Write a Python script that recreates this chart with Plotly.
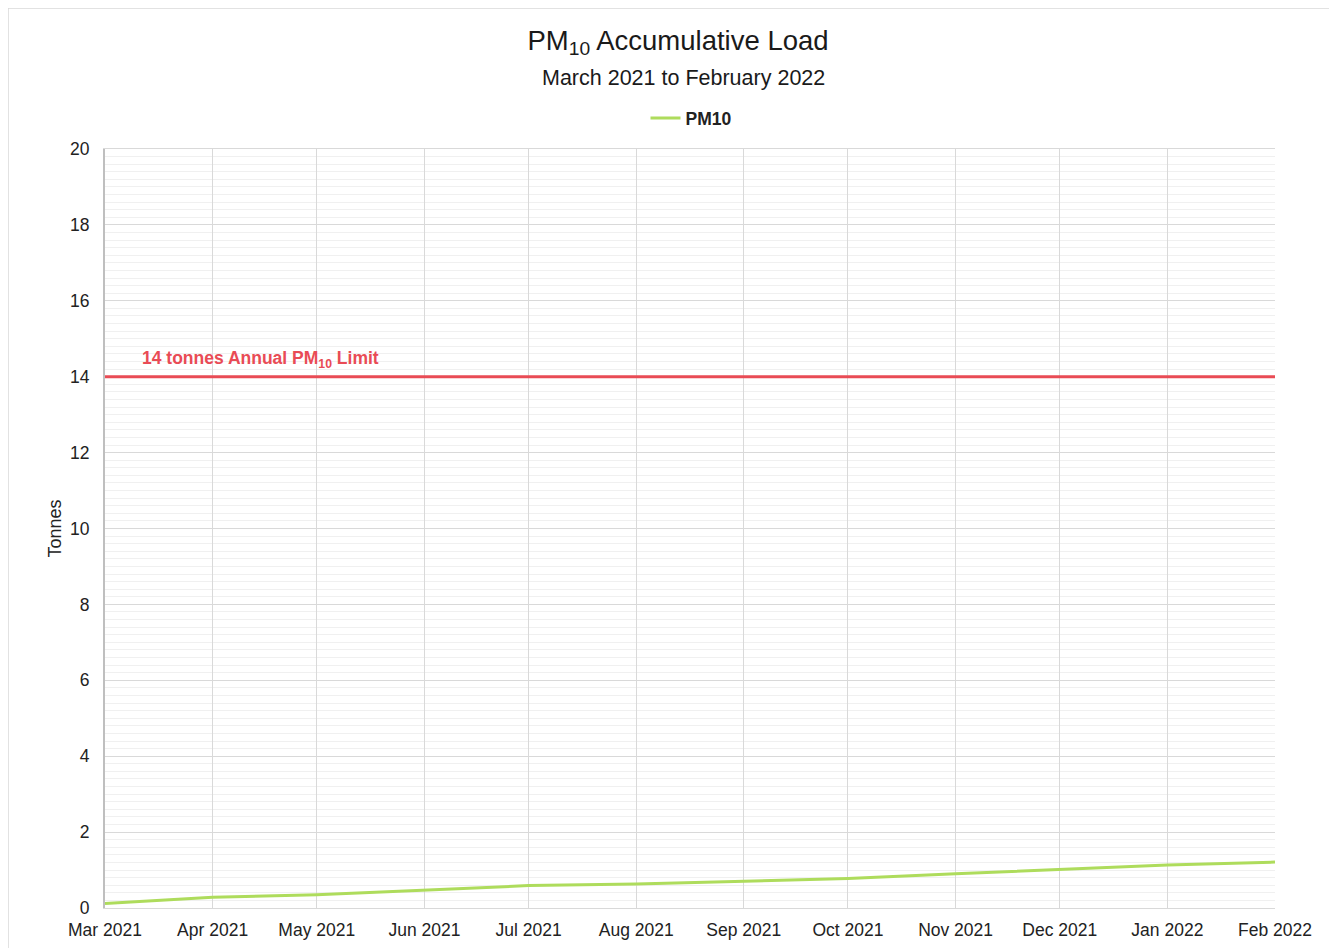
import plotly.graph_objects as go

months = ["2021-03-01", "2021-04-01", "2021-05-01", "2021-06-01", "2021-07-01", "2021-08-01",
          "2021-09-01", "2021-10-01", "2021-11-01", "2021-12-01", "2022-01-01", "2022-02-01"]
month_labels = ["Mar 2021", "Apr 2021", "May 2021", "Jun 2021", "Jul 2021", "Aug 2021",
                "Sep 2021", "Oct 2021", "Nov 2021", "Dec 2021", "Jan 2022", "Feb 2022"]
pm10 = [0.12, 0.28, 0.35, 0.47, 0.59, 0.63, 0.71, 0.78, 0.90, 1.02, 1.13, 1.21]
limit_value = 14
y_ticks = [0, 2, 4, 6, 8, 10, 12, 14, 16, 18, 20]

font_family = "Liberation Sans, Arial, sans-serif"

# plot area in figure pixels
L, R, T, B = 97, 70, 141, 48
W, H = 1337, 948
PW, PH = W - L - R, H - T - B

fig = go.Figure()
fig.add_trace(go.Scatter(
    x=months, y=pm10, mode="lines", name="<b>PM10</b>",
    line=dict(color="#aedc5c", width=3),
))

fig.add_shape(type="line", xref="paper", yref="y", x0=0, x1=1, y0=limit_value, y1=limit_value,
              line=dict(color="#e94b55", width=3), layer="above")
fig.add_annotation(xref="x", yref="y", x="2021-03-11", y=limit_value, yshift=17,
                   xanchor="left", text="<b>14 tonnes Annual PM<sub>10</sub> Limit</b>",
                   showarrow=False, font=dict(color="#e94b55", size=17.5, family=font_family))

# subtitle
fig.add_annotation(xref="paper", yref="paper", x=(675 - L) / PW, y=1 + (T - 70) / PH,
                   xanchor="center", yanchor="middle", showarrow=False,
                   text="March 2021 to February 2022",
                   font=dict(size=21.5, family=font_family, color="#1a1a1a"))

# outer border
fig.add_shape(type="rect", xref="paper", yref="paper",
              x0=-L / PW, x1=(1322 - L) / PW, y0=-(B + 20) / PH, y1=1 + T / PH,
              line=dict(color="#d9d9d9", width=1.5), fillcolor="rgba(0,0,0,0)", layer="below")

fig.update_layout(
    width=W, height=H,
    margin=dict(l=L, r=R, t=T, b=B),
    paper_bgcolor="white", plot_bgcolor="white",
    font=dict(family=font_family, color="#222222", size=18),
    title=dict(
        text="PM<sub>10</sub> Accumulative Load",
        x=670 / W, xanchor="center", y=1 - 32 / H, yanchor="middle",
        font=dict(size=27.5, family=font_family, color="#1a1a1a"),
    ),
    legend=dict(orientation="h", x=(683 - L) / PW, xanchor="center", y=1 + (T - 110) / PH,
                yanchor="middle",
                font=dict(size=17.5, family=font_family, color="#222222")),
    showlegend=True,
)
fig.update_xaxes(
    type="date", range=[months[0], months[-1]],
    tickvals=months, ticktext=month_labels,
    showgrid=True, gridcolor="#d9d9d9", gridwidth=1,
    showline=True, linecolor="#d9d9d9", linewidth=1, mirror=True,
    tickfont=dict(size=17.5), ticks="", ticklabelstandoff=6,
)
fig.update_yaxes(
    range=[0, 20], tickvals=y_ticks,
    showgrid=True, gridcolor="#d9d9d9", gridwidth=1,
    minor=dict(dtick=0.2, showgrid=True, gridcolor="#f0f0f0", gridwidth=1),
    showline=True, linecolor="#bfbfbf", linewidth=2,
    tickfont=dict(size=17.5), ticks="", ticklabelstandoff=10,
    title=dict(text="Tonnes", font=dict(size=18), standoff=4),
    zeroline=False,
)

fig.write_html("out.html")
